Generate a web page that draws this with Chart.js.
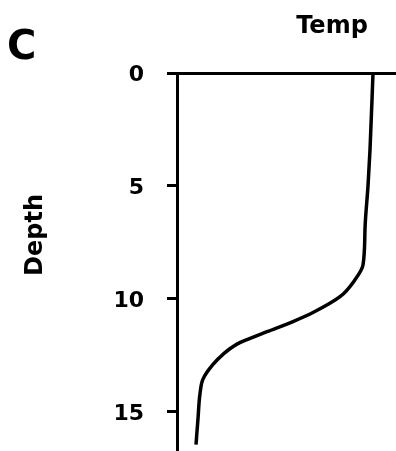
<!DOCTYPE html>
<html>
<head>
<meta charset="utf-8">
<script src="https://cdn.jsdelivr.net/npm/chart.js@4/dist/chart.umd.min.js"></script>
<style>
  body { margin: 0; background: #fff; }
  canvas { display: block; }
</style>
</head>
<body>
<canvas id="myChart" width="396" height="451"></canvas>
<script>
// profile: depth (down) vs temp (no scale on temp axis)
const depth = [0, 3.4, 5.0, 6.9, 8.5, 9.15, 9.9, 10.6, 11.0, 11.45, 11.8, 12.0, 12.45, 12.9, 13.55, 14.2, 15.3, 16.45];
const temp = [19.6, 19.3, 19.1, 18.8, 18.6, 17.8, 16.3, 13.6, 11.6, 9.0, 7.0, 6.0, 4.6, 3.6, 2.6, 2.3, 2.1, 1.9];
const depthTicks = [0, 5, 10, 15];

const panelLetter = "C";
const xTitle = "Temp";
const yTitle = "Depth";

const points = depth.map((d, i) => ({ x: temp[i], y: d }));

// labels placed like the printed figure
const labels = {
  id: "labels",
  afterDraw(chart) {
    const ctx = chart.ctx;
    ctx.save();
    ctx.fillStyle = "#000";

    ctx.font = "bold 40px 'DejaVu Sans'";
    ctx.textAlign = "left";
    ctx.textBaseline = "alphabetic";
    ctx.fillText(panelLetter, 7, 59);

    ctx.font = "bold 24px 'DejaVu Sans'";
    ctx.textAlign = "center";
    ctx.fillText(xTitle, 332, 33);

    ctx.translate(42, 235);
    ctx.rotate(-Math.PI / 2);
    ctx.fillText(yTitle, 0, 0);
    ctx.restore();
  }
};

const ctx = document.getElementById("myChart");
new Chart(ctx, {
  type: "scatter",
  data: {
    datasets: [{
      data: points,
      showLine: true,
      borderColor: "#000",
      borderWidth: 3.5,
      pointRadius: 0,
      cubicInterpolationMode: "monotone",
      fill: false
    }]
  },
  options: {
    responsive: false,
    animation: false,
    indexAxis: "y",
    layout: { padding: 0 },
    plugins: {
      legend: { display: false },
      tooltip: { enabled: false }
    },
    scales: {
      x: {
        type: "linear",
        position: "top",
        min: 0,
        max: 21.9,
        ticks: { display: false },
        grid: { display: false },
        border: { display: true, color: "#000", width: 3 },
        afterFit(s) { s.height = 73; s.paddingLeft = 0; s.paddingRight = 0; }
      },
      y: {
        type: "linear",
        reverse: true,
        min: 0,
        max: 16.73,
        afterBuildTicks(s) { s.ticks = depthTicks.map(v => ({ value: v })); },
        afterFit(s) { s.width = 177; s.paddingTop = 0; s.paddingBottom = 0; },
        ticks: {
          color: "#000",
          padding: 23,
          labelOffset: 2,
          font: { family: "'DejaVu Sans'", size: 22, weight: "bold" }
        },
        grid: {
          drawOnChartArea: false,
          drawTicks: true,
          tickLength: 10,
          lineWidth: 3,
          color: "#000"
        },
        border: { display: true, color: "#000", width: 3 }
      }
    }
  },
  plugins: [labels]
});
</script>
</body>
</html>
